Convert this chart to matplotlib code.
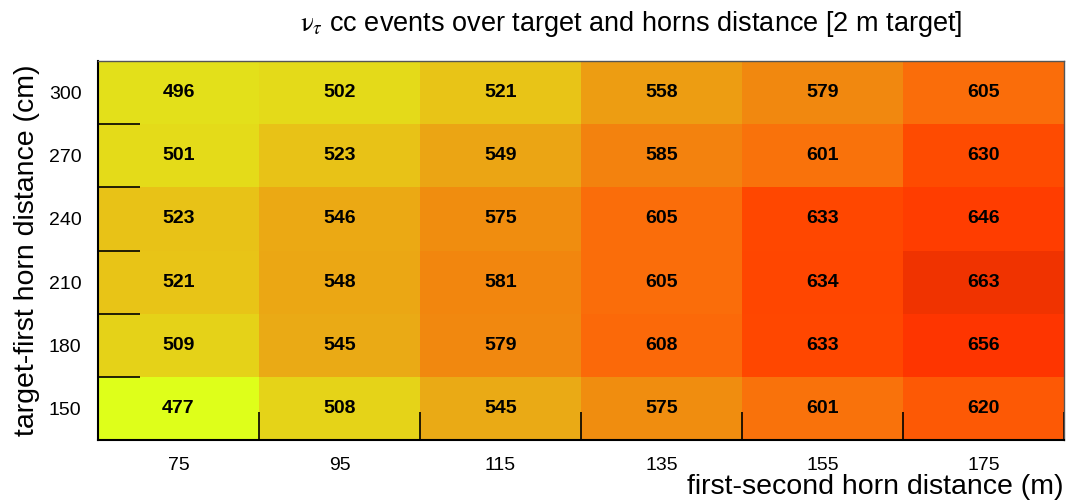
import numpy as np
import matplotlib.pyplot as plt
from matplotlib.colors import LinearSegmentedColormap

plt.rcParams['font.family'] = ['Liberation Sans', 'DejaVu Sans']
plt.rcParams['mathtext.fontset'] = 'stix'

x_labels = ['75', '95', '115', '135', '155', '175']
y_labels = ['150', '180', '210', '240', '270', '300']

# rows from bottom (150) to top (300)
events = np.array([
    [477, 508, 545, 575, 601, 620],
    [509, 545, 579, 608, 633, 656],
    [521, 548, 581, 605, 634, 663],
    [523, 546, 575, 605, 633, 646],
    [501, 523, 549, 585, 601, 630],
    [496, 502, 521, 558, 579, 605],
])

vmin, vmax = 477, 663
anchors = [
    (477, (0.87, 1.00, 0.10)),
    (496, (0.89, 0.88, 0.10)),
    (523, (0.91, 0.76, 0.09)),
    (546, (0.92, 0.66, 0.08)),
    (575, (0.94, 0.55, 0.06)),
    (605, (0.98, 0.43, 0.04)),
    (633, (1.00, 0.28, 0.00)),
    (656, (1.00, 0.21, 0.00)),
    (663, (0.94, 0.20, 0.00)),
]
cmap = LinearSegmentedColormap.from_list(
    'yor', [((v - vmin) / (vmax - vmin), c) for v, c in anchors])

fig = plt.figure(figsize=(10.69, 5.01), dpi=100)
ax = fig.add_axes([0.0917, 0.1218, 0.9036, 0.7562])

ax.pcolormesh(np.arange(7), np.arange(7), events, cmap=cmap, vmin=vmin, vmax=vmax)

for i in range(events.shape[0]):
    for j in range(events.shape[1]):
        ax.text(j + 0.5, i + 0.5, str(events[i, j]), ha='center', va='center',
                fontsize=14, fontweight='bold', color='black')

ax.set_xlim(0, 6)
ax.set_ylim(0, 6)

ax.set_xticks(np.arange(6) + 0.5)
ax.set_xticklabels(x_labels)
ax.set_yticks(np.arange(6) + 0.5)
ax.set_yticklabels(y_labels)
ax.tick_params(axis='both', which='major', length=0, labelsize=14)
ax.tick_params(axis='y', which='major', pad=12)
ax.tick_params(axis='x', which='major', pad=12)

ax.set_xticks(np.arange(1, 7), minor=True)
ax.set_yticks(np.arange(1, 6), minor=True)
ax.tick_params(axis='x', which='minor', direction='in', length=20, width=1.2, color='black')
ax.tick_params(axis='y', which='minor', direction='in', length=30, width=1.2, color='black')

for side in ['left', 'bottom']:
    ax.spines[side].set_linewidth(1.5)
for side in ['top', 'right']:
    ax.spines[side].set_linewidth(1.0)
    ax.spines[side].set_color('#555555')

ax.set_title(r'$\mathrm{\nu}_{\tau}$ cc events over target and horns distance [2 m target]',
             fontsize=19.5, pad=22, x=0.552)
ax.set_ylabel('target-first horn distance (cm)', fontsize=20.5, labelpad=6)
fig.text(0.9953, 0.002, 'first-second horn distance (m)', fontsize=20.5,
         ha='right', va='bottom')

fig.savefig('out.png', dpi=100)
